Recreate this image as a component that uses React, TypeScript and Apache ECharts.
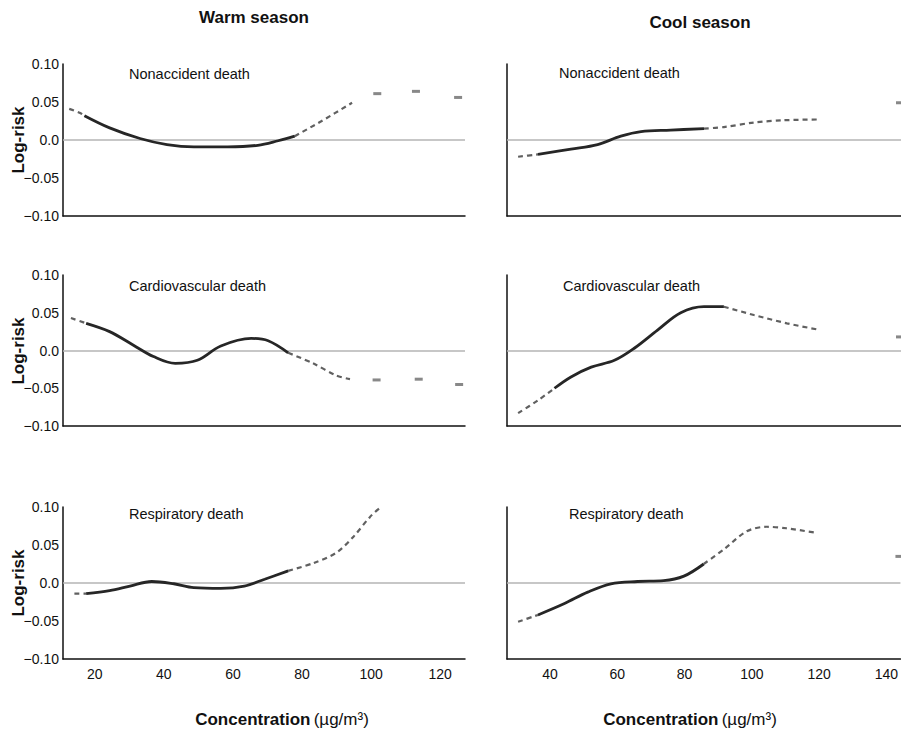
import React, { useEffect, useRef } from "react";
import * as echarts from "echarts";

// ---- tick labels / categories ----
const yTicks = [-0.1, -0.05, 0, 0.05, 0.1];
const warmXTicks = [20, 40, 60, 80, 100, 120];
const coolXTicks = [40, 60, 80, 100, 120, 140];
const panelNames = ["Nonaccident death", "Cardiovascular death", "Respiratory death"];
const seasonTitles = ["Warm season", "Cool season"];

// ---- Warm season, nonaccident ----
const wnDashLo = [[12.6, 0.041], [15.6, 0.036], [17.0, 0.032]];
const wnSolid = [[17.0, 0.032], [24.3, 0.016], [33.1, 0.002], [40.9, -0.006], [48.7, -0.009], [58.5, -0.009], [67.2, -0.007], [73.1, -0.001], [77.9, 0.005]];
const wnDashHi = [[77.9, 0.005], [85.7, 0.025], [94.5, 0.049]];
const wnMarks = [[101.8, 0.061], [113.0, 0.064], [125.2, 0.056]];

// ---- Cool season, nonaccident ----
const cnDashLo = [[30.5, -0.022], [36.4, -0.019]];
const cnSolid = [[36.4, -0.019], [46.2, -0.012], [54.1, -0.006], [61.0, 0.005], [67.0, 0.011], [75.8, 0.013], [85.7, 0.015]];
const cnDashHi = [[85.7, 0.015], [91.6, 0.017], [100.5, 0.023], [109.4, 0.026], [119.2, 0.027]];
const cnMarks = [[143.9, 0.049]];

// ---- Warm season, cardiovascular ----
const wcDashLo = [[13.1, 0.043], [17.5, 0.036]];
const wcSolid = [[17.5, 0.036], [24.3, 0.025], [31.2, 0.007], [37.0, -0.008], [43.3, -0.017], [49.7, -0.013], [56.5, 0.006], [65.3, 0.016], [70.2, 0.013], [76.0, -0.003]];
const wcDashHi = [[76.0, -0.003], [83.2, -0.017], [89.9, -0.033], [93.9, -0.038]];
const wcMarks = [[101.6, -0.039], [113.8, -0.038], [125.5, -0.045]];

// ---- Cool season, cardiovascular ----
const ccDashLo = [[30.5, -0.083], [36.4, -0.066], [41.3, -0.05]];
const ccSolid = [[41.3, -0.05], [46.2, -0.035], [52.2, -0.022], [59.1, -0.013], [65.0, 0.003], [71.9, 0.027], [78.8, 0.05], [85.7, 0.058], [91.6, 0.058]];
const ccDashHi = [[91.6, 0.058], [100.5, 0.047], [110.3, 0.036], [119.2, 0.028]];
const ccMarks = [[143.9, 0.018]];

// ---- Warm season, respiratory ----
const wrDashLo = [[14.1, -0.014], [17.5, -0.014]];
const wrSolid = [[17.5, -0.014], [24.3, -0.01], [30.2, -0.004], [36.5, 0.002], [42.9, -0.001], [48.7, -0.006], [56.5, -0.007], [63.3, -0.004], [69.2, 0.005], [76.0, 0.016]];
const wrDashHi = [[76.0, 0.016], [83.2, 0.026], [90.0, 0.04], [94.9, 0.061], [99.7, 0.087], [102.8, 0.1]];
const wrMarks: number[][] = [];

// ---- Cool season, respiratory ----
const crDashLo = [[30.5, -0.051], [36.4, -0.042]];
const crSolid = [[36.4, -0.042], [44.3, -0.027], [51.2, -0.012], [58.1, -0.001], [66.0, 0.002], [73.8, 0.003], [79.8, 0.009], [85.7, 0.025]];
const crDashHi = [[85.7, 0.025], [91.6, 0.044], [98.5, 0.068], [104.4, 0.074], [110.3, 0.072], [119.2, 0.066]];
const crMarks = [[143.9, 0.035]];

const panels = [
  [wnDashLo, wnSolid, wnDashHi, wnMarks],
  [cnDashLo, cnSolid, cnDashHi, cnMarks],
  [wcDashLo, wcSolid, wcDashHi, wcMarks],
  [ccDashLo, ccSolid, ccDashHi, ccMarks],
  [wrDashLo, wrSolid, wrDashHi, wrMarks],
  [crDashLo, crSolid, crDashHi, crMarks],
];

const SANS = "'Liberation Sans', Arial, Helvetica, sans-serif";

export default function App() {
  const ref = useRef<HTMLDivElement>(null);
  useEffect(() => {
    const chart = echarts.init(ref.current!, null, { renderer: "svg" });
    const colLeft = [63, 507];
    const colWidth = [402, 394];
    const rowTop = [64, 275, 507];
    const rowHeight = [152, 151, 152];
    const xMin = [10.8, 27.2];
    const xMax = [127.2, 144.2];

    const grid: any[] = [];
    const xAxis: any[] = [];
    const yAxis: any[] = [];
    const series: any[] = [];
    const graphic: any[] = [];

    for (let r = 0; r < 3; r++) {
      for (let c = 0; c < 2; c++) {
        const i = r * 2 + c;
        grid.push({ left: colLeft[c], top: rowTop[r], width: colWidth[c], height: rowHeight[r] });
        xAxis.push({
          type: "value",
          gridIndex: i,
          min: xMin[c],
          max: xMax[c],
          axisLine: { show: true, onZero: false, lineStyle: { color: "#111", width: 1.5 } },
          axisTick: { show: false },
          splitLine: { show: false },
          axisLabel: {
            show: r === 2,
            customValues: c === 0 ? warmXTicks : coolXTicks,
            fontFamily: SANS,
            fontSize: 14,
            color: "#111",
            margin: 8,
          },
        });
        yAxis.push({
          type: "value",
          gridIndex: i,
          min: yTicks[0],
          max: yTicks[yTicks.length - 1],
          interval: 0.05,
          axisLine: { show: true, onZero: false, lineStyle: { color: "#111", width: 1.5 } },
          axisTick: { show: false },
          splitLine: { show: false },
          axisLabel: {
            show: c === 0,
            fontFamily: SANS,
            fontSize: 14,
            color: "#111",
            margin: 4,
            formatter: (v: number) => {
              if (Math.abs(v) < 1e-9) return "0.0";
              return (v < 0 ? "\u2212" : "") + Math.abs(v).toFixed(2);
            },
          },
        });
        const [lo, solid, hi, marks] = panels[i];
        const dashStyle = { color: "#606060", width: 2.2, type: [5, 4] };
        series.push({
          type: "line", xAxisIndex: i, yAxisIndex: i, data: lo, showSymbol: false, smooth: 0.3,
          lineStyle: dashStyle, silent: true, z: 3,
        });
        series.push({
          type: "line", xAxisIndex: i, yAxisIndex: i, data: solid, showSymbol: false, smooth: 0.35,
          lineStyle: { color: "#262626", width: 2.8 }, silent: true, z: 4,
          markLine: {
            silent: true, symbol: "none", label: { show: false },
            lineStyle: { color: "#b4b4b4", width: 1.5, type: "solid" },
            data: [{ yAxis: 0 }],
            z: 1,
          },
        });
        series.push({
          type: "line", xAxisIndex: i, yAxisIndex: i, data: hi, showSymbol: false, smooth: 0.3,
          lineStyle: dashStyle, silent: true, z: 3,
        });
        series.push({
          type: "scatter", xAxisIndex: i, yAxisIndex: i, data: marks, symbol: "rect",
          symbolSize: [8, 3], itemStyle: { color: "#6a6a6a" }, silent: true, z: 3,
        });
      }
    }

    // season titles
    graphic.push({ type: "text", x: 254, y: 17, style: { text: seasonTitles[0], font: `bold 17px ${SANS}`, fill: "#111", textAlign: "center", textVerticalAlign: "middle" } });
    graphic.push({ type: "text", x: 700, y: 22, style: { text: seasonTitles[1], font: `bold 17px ${SANS}`, fill: "#111", textAlign: "center", textVerticalAlign: "middle" } });

    // panel labels
    const labelPos = [
      [129, 74], [559, 73],
      [129, 286], [563, 286],
      [129, 514], [569, 514],
    ];
    for (let i = 0; i < 6; i++) {
      graphic.push({
        type: "text", x: labelPos[i][0], y: labelPos[i][1],
        style: { text: panelNames[Math.floor(i / 2)], font: `14.5px ${SANS}`, fill: "#111", textAlign: "left", textVerticalAlign: "middle" },
      });
    }

    // Log-risk
    [140, 351, 583].forEach((yc) => {
      graphic.push({
        type: "text", x: 18, y: yc, rotation: Math.PI / 2,
        style: { text: "Log-risk", font: `bold 17px ${SANS}`, fill: "#111", textAlign: "center", textVerticalAlign: "middle" },
      });
    });

    // x axis titles
    [282, 690].forEach((xc) => {
      graphic.push({
        type: "text", x: xc, y: 719,
        style: {
          text: "{b|Concentration} {n|(\u00B5g/m\u00B3)}",
          textAlign: "center", textVerticalAlign: "middle",
          rich: {
            b: { fontFamily: SANS, fontWeight: "bold", fontSize: 17, fill: "#111", color: "#111" },
            n: { fontFamily: SANS, fontSize: 17, fill: "#111", color: "#111" },
          },
        },
      });
    });

    chart.setOption({
      animation: false,
      backgroundColor: "#fff",
      grid, xAxis, yAxis, series, graphic,
    });
    return () => chart.dispose();
  }, []);
  return <div ref={ref} style={{ position: "fixed", left: 0, top: 0, width: 901, height: 734, background: "#fff" }} />;
}
